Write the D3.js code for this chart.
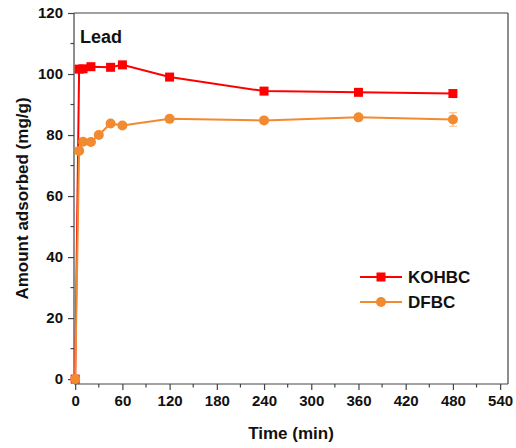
<!DOCTYPE html>
<html><head><meta charset="utf-8">
<script src="https://cdn.jsdelivr.net/npm/d3@7"></script>
<style>body{margin:0;background:#fff}svg{display:block}text{font-family:"Liberation Sans",Arial,sans-serif;font-weight:bold;fill:#111}</style>
</head><body>
<svg id="c" width="516" height="448"></svg>
<script>
const kohTime = [0, 5, 10, 20, 45, 60, 120, 240, 360, 480];
const kohVal  = [0, 101.6, 101.7, 102.4, 102.2, 103.0, 99.0, 94.4, 94.0, 93.6];
const kohErr  = [0, 0.5, 0.5, 0.5, 0.5, 0.5, 0.6, 0.6, 0.6, 0.8];
const dfTime  = [0, 5, 10, 20, 30, 45, 60, 120, 240, 360, 480];
const dfVal   = [0, 74.8, 77.8, 77.7, 80.0, 83.8, 83.1, 85.3, 84.8, 85.8, 85.1];
const dfErr   = [0, 0.8, 0.8, 0.6, 0.6, 0.6, 0.6, 0.6, 1.0, 0.8, 2.2];
const xTicks = [0, 60, 120, 180, 240, 300, 360, 420, 480, 540];
const yTicks = [0, 20, 40, 60, 80, 100, 120];
const seriesNames = ["KOHBC", "DFBC"];
const seriesColors = ["#ff0000", "#f28a30"];

const svg = d3.select("#c");
const L = 74, R = 508, T = 13, B = 384;
const x = d3.scaleLinear().domain([-1.5, 550]).range([L, R]);
const y = d3.scaleLinear().domain([-1.6, 120]).range([B, T]);
const axisColor = "#444";

// frame top/right
svg.append("line").attr("x1", L).attr("x2", R).attr("y1", T).attr("y2", T).attr("stroke", axisColor).attr("stroke-width", 1.2);
svg.append("line").attr("x1", R).attr("x2", R).attr("y1", T).attr("y2", B).attr("stroke", axisColor).attr("stroke-width", 1.2);

// x axis
const xMinor = d3.range(30, 550, 60);
const gx = svg.append("g").attr("transform", `translate(0,${B})`);
gx.call(d3.axisBottom(x).tickValues(xTicks).tickSize(6).tickPadding(5).tickFormat(d3.format("d")));
gx.selectAll(".tick").filter(function(){return false;});
gx.call(g => g.select(".domain").attr("stroke", axisColor).attr("stroke-width", 1.2).attr("d", `M${L},0H${R}`));
gx.selectAll(".tick line").attr("stroke", axisColor).attr("stroke-width", 1.2);
gx.selectAll(".tick text").attr("font-size", 15).attr("fill", "#111").attr("font-family", "Liberation Sans, Arial, sans-serif").attr("font-weight", "bold");
gx.selectAll(".minor").data(xMinor).enter().append("line").attr("class", "minor")
  .attr("x1", d => x(d)).attr("x2", d => x(d)).attr("y1", 0).attr("y2", 3.5).attr("stroke", axisColor).attr("stroke-width", 1.2);

// y axis
const yMinor = d3.range(10, 120, 20);
const gy = svg.append("g").attr("transform", `translate(${L},0)`);
gy.call(d3.axisLeft(y).tickValues(yTicks).tickSize(6).tickPadding(5).tickFormat(d3.format("d")));
gy.call(g => g.select(".domain").attr("stroke", axisColor).attr("stroke-width", 1.2).attr("d", `M0,${B}V${T}`));
gy.selectAll(".tick line").attr("stroke", axisColor).attr("stroke-width", 1.2);
gy.selectAll(".tick text").attr("font-size", 15).attr("fill", "#111").attr("font-family", "Liberation Sans, Arial, sans-serif").attr("font-weight", "bold");
gy.selectAll(".minor").data(yMinor).enter().append("line").attr("class", "minor")
  .attr("x1", 0).attr("x2", -3.5).attr("y1", d => y(d)).attr("y2", d => y(d)).attr("stroke", axisColor).attr("stroke-width", 1.2);

// axis titles
svg.append("text").attr("x", (L + R) / 2 + 0).attr("y", 439).attr("text-anchor", "middle").attr("font-size", 17).text("Time (min)");
svg.append("text").attr("transform", `translate(28,${(T + B) / 2}) rotate(-90)`).attr("text-anchor", "middle").attr("font-size", 17).text("Amount adsorbed (mg/g)");
svg.append("text").attr("x", 80).attr("y", 43).attr("font-size", 18).text("Lead");

const line = d3.line().x(d => x(d[0])).y(d => y(d[1]));
const sets = [
  {t: kohTime, v: kohVal, e: kohErr, color: seriesColors[0], shape: "square"},
  {t: dfTime, v: dfVal, e: dfErr, color: seriesColors[1], shape: "circle"}
];
sets.forEach(s => {
  const pts = s.t.map((t, i) => [t, s.v[i], s.e[i]]);
  const g = svg.append("g");
  g.append("path").datum(pts).attr("d", line).attr("fill", "none").attr("stroke", s.color).attr("stroke-width", 2);
  g.selectAll(".eb").data(pts.filter(p => p[2] > 0)).enter().append("path").attr("class", "eb")
    .attr("d", p => `M${x(p[0])},${y(p[1] - p[2])}V${y(p[1] + p[2])}M${x(p[0]) - 4},${y(p[1] - p[2])}h8M${x(p[0]) - 4},${y(p[1] + p[2])}h8`)
    .attr("stroke", s.color).attr("stroke-width", 1).attr("fill", "none").attr("opacity", 0.6);
  if (s.shape === "square") {
    g.selectAll(".m").data(pts).enter().append("rect").attr("x", p => x(p[0]) - 4.5).attr("y", p => y(p[1]) - 4.5)
      .attr("width", 9).attr("height", 9).attr("fill", s.color);
  } else {
    g.selectAll(".m").data(pts).enter().append("circle").attr("cx", p => x(p[0])).attr("cy", p => y(p[1]))
      .attr("r", 5).attr("fill", s.color);
  }
});

// legend
const lg = svg.append("g");
seriesNames.forEach((n, i) => {
  const yy = 277 + i * 25;
  lg.append("line").attr("x1", 360).attr("x2", 402).attr("y1", yy).attr("y2", yy).attr("stroke", seriesColors[i]).attr("stroke-width", 2);
  if (i === 0) lg.append("rect").attr("x", 381 - 4.5).attr("y", yy - 4.5).attr("width", 9).attr("height", 9).attr("fill", seriesColors[i]);
  else lg.append("circle").attr("cx", 381).attr("cy", yy).attr("r", 5).attr("fill", seriesColors[i]);
  lg.append("text").attr("x", 408).attr("y", yy + 6).attr("font-size", 17).text(n);
});
</script>
</body></html>
